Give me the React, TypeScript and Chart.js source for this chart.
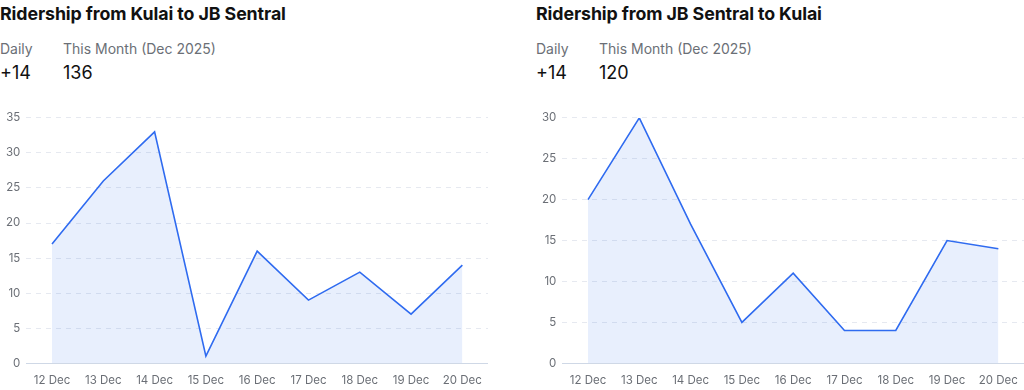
import React, { useEffect, useRef } from "react";
import { Chart, registerables } from "chart.js";

Chart.register(...registerables);

const dayLabels = ["12 Dec", "13 Dec", "14 Dec", "15 Dec", "16 Dec", "17 Dec", "18 Dec", "19 Dec", "20 Dec"];
const kulaiToJB = [17, 26, 33, 1, 16, 9, 13, 7, 14];
const jbToKulai = [20, 30, 17, 5, 11, 4, 4, 15, 14];
const titles = ["Ridership from Kulai to JB Sentral", "Ridership from JB Sentral to Kulai"];
const dailyValues = ["+14", "+14"];
const monthValues = ["136", "120"];
const yMax = [35, 30];

const FONT = "Inter, 'Noto Sans', sans-serif";

function LineChart({ values, max }: { values: number[]; max: number }) {
  const ref = useRef<HTMLCanvasElement | null>(null);
  useEffect(() => {
    if (!ref.current) return;
    const chart = new Chart(ref.current, {
      type: "line",
      data: {
        labels: dayLabels,
        datasets: [
          {
            data: values,
            borderColor: "#2f6bf0",
            borderWidth: 1.6,
            backgroundColor: "rgba(47,107,240,0.11)",
            fill: "origin",
            pointRadius: 0,
            tension: 0,
          },
        ],
      },
      options: {
        animation: false,
        responsive: true,
        maintainAspectRatio: false,
        layout: { padding: { left: 0, top: 6, right: 0, bottom: 0 } },
        plugins: { legend: { display: false }, tooltip: { enabled: false } },
        scales: {
          x: {
            offset: true,
            grid: { display: false },
            border: { display: true, color: "#cfd8e6", width: 1 },
            ticks: { color: "#6b6f76", font: { family: FONT, size: 11.5 }, padding: 2, maxRotation: 0 },
          },
          y: {
            min: 0,
            max: max,
            ticks: { stepSize: 5, color: "#6b6f76", font: { family: FONT, size: 11.5 }, padding: 6 },
            grid: { color: "#e6e9f0", drawTicks: false },
            border: { display: false, dash: [5, 5] },
          },
        },
      },
    });
    return () => chart.destroy();
  }, [values, max]);
  return (
    <div style={{ position: "relative", height: 284 }}>
      <canvas ref={ref} />
    </div>
  );
}

function Panel({ idx, values }: { idx: number; values: number[] }) {
  return (
    <div style={{ width: 488, fontFamily: FONT }}>
      <div style={{ fontSize: 17.8, fontWeight: 700, color: "#111", height: 24, lineHeight: "24px", marginTop: 2, letterSpacing: -0.1 }}>
        {titles[idx]}
      </div>
      <div style={{ display: "flex", marginTop: 13 }}>
        <div style={{ width: 63 }}>
          <div style={{ fontSize: 14, color: "#6b6f76", lineHeight: "20px" }}>Daily</div>
          <div style={{ fontSize: 18, color: "#111", lineHeight: "28px" }}>{dailyValues[idx]}</div>
        </div>
        <div>
          <div style={{ fontSize: 14, color: "#6b6f76", lineHeight: "20px" }}>This Month (Dec 2025)</div>
          <div style={{ fontSize: 18, color: "#111", lineHeight: "28px" }}>{monthValues[idx]}</div>
        </div>
      </div>
      <div style={{ marginTop: 18 }}>
        <LineChart values={values} max={yMax[idx]} />
      </div>
    </div>
  );
}

export default function App() {
  useEffect(() => {
    document.body.style.margin = "0";
    document.body.style.background = "#fff";
  }, []);
  return (
    <div style={{ display: "flex", gap: 48, width: 1024, height: 390, overflow: "hidden", background: "#fff" }}>
      <Panel idx={0} values={kulaiToJB} />
      <Panel idx={1} values={jbToKulai} />
    </div>
  );
}
